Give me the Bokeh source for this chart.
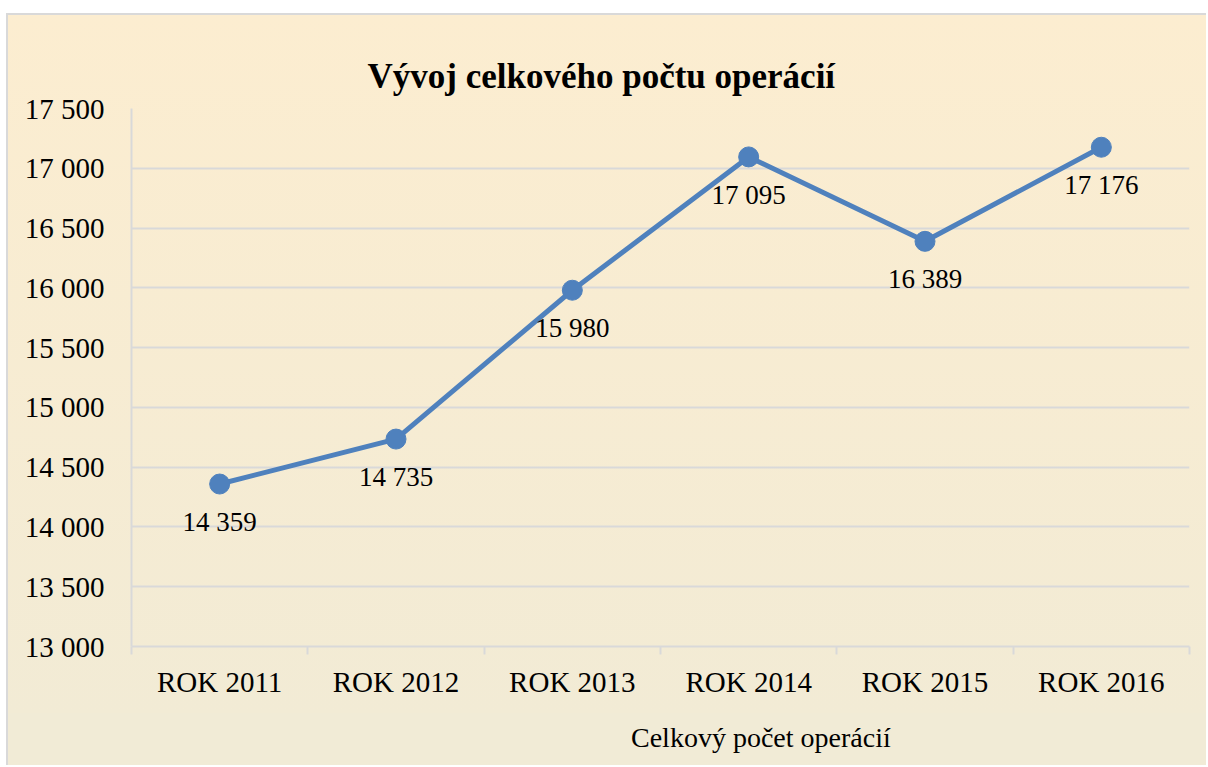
from bokeh.plotting import figure
from bokeh.layouts import column
from bokeh.models import Range1d, FixedTicker, ColumnDataSource, Legend, LegendItem
from bokeh.core.properties import value
from bokeh.embed import file_html
from bokeh.resources import INLINE

categories = ["ROK 2011", "ROK 2012", "ROK 2013", "ROK 2014", "ROK 2015", "ROK 2016"]
values = [14359, 14735, 15980, 17095, 16389, 17176]
y_ticks = [13000, 13500, 14000, 14500, 15000, 15500, 16000, 16500, 17000, 17500]
series_name = "Celkový počet operácií"
title_text = "Vývoj celkového počtu operácií"

def fmt(v):
    return f"{v:,}".replace(",", " ")

FONT = "Liberation Serif"
BLUE = "#4F81BD"
GRID = "#D9D9D9"

xs = [i + 0.5 for i in range(len(categories))]
src = ColumnDataSource(dict(x=xs, y=values, lab=[fmt(v) for v in values]))

p = figure(width=1200, height=700, output_backend="svg", toolbar_location=None,
           x_range=Range1d(0, len(categories)), y_range=Range1d(y_ticks[0], y_ticks[-1]),
           min_border_left=123, min_border_right=19, min_border_top=93, min_border_bottom=69,
           margin=(13, 0, 0, 6))
p.background_fill_color = None
p.border_fill_color = None
p.outline_line_color = None
p.styles = {"background": "linear-gradient(#FCEDD0, #F2EBD5)",
            "border-top": "2px solid #D9D9D9", "border-left": "2px solid #D9D9D9"}

p.title.text = title_text
p.title.text_font = FONT
p.title.text_font_size = "35px"
p.title.text_font_style = "bold"
p.title.align = "left"
p.title.offset = 236
p.title.standoff = 26
p.title.text_color = "black"

# axes
p.xaxis.ticker = FixedTicker(ticks=xs, minor_ticks=list(range(len(categories) + 1)))
p.xaxis.major_label_overrides = {x: c for x, c in zip(xs, categories)}
p.xaxis.major_tick_line_color = None
p.xaxis.minor_tick_line_color = GRID
p.xaxis.minor_tick_line_width = 2
p.xaxis.minor_tick_out = 8
p.xaxis.minor_tick_in = 0
p.xaxis.axis_line_color = GRID
p.xaxis.axis_line_width = 2
p.xaxis.major_label_text_font = FONT
p.xaxis.major_label_text_font_size = "29px"
p.xaxis.major_label_text_color = "black"
p.xaxis.major_label_standoff = 11

p.yaxis.ticker = FixedTicker(ticks=y_ticks)
p.yaxis.major_label_overrides = {t: fmt(t) for t in y_ticks}
p.yaxis.major_tick_line_color = None
p.yaxis.minor_tick_line_color = None
p.yaxis.axis_line_color = GRID
p.yaxis.axis_line_width = 2
p.yaxis.major_label_text_font = FONT
p.yaxis.major_label_text_font_size = "29px"
p.yaxis.major_label_text_color = "black"
p.yaxis.major_label_standoff = 21

p.xgrid.grid_line_color = None
p.ygrid.grid_line_color = GRID
p.ygrid.grid_line_width = 2

p.line("x", "y", source=src, line_color=BLUE, line_width=5)
p.scatter("x", "y", source=src, size=20, fill_color=BLUE, line_color=BLUE)
p.text("x", "y", text="lab", source=src, text_font=value(FONT), text_font_size="27px",
       text_align="center", text_baseline="middle", y_offset=38, text_color="black")

# legend strip below the chart
lf = figure(width=1200, height=52, output_backend="svg", toolbar_location=None,
            x_range=Range1d(0, 1), y_range=Range1d(0, 1),
            x_axis_location=None, y_axis_location=None, min_border=0,
            margin=(0, 0, 0, 6))
lf.background_fill_color = None
lf.border_fill_color = None
lf.outline_line_color = None
lf.xgrid.grid_line_color = None
lf.ygrid.grid_line_color = None
lf.styles = {"background": "#F1EBD6", "border-left": "2px solid #D9D9D9"}
empty = ColumnDataSource(dict(x=[], y=[]))
lln = lf.line("x", "y", source=empty, line_color=BLUE, line_width=5)
lsc = lf.scatter("x", "y", source=empty, size=20, fill_color=BLUE, line_color=BLUE)

legend = Legend(items=[LegendItem(label=series_name, renderers=[lln, lsc])],
                orientation="horizontal", location=(442, 11),
                background_fill_alpha=0, border_line_color=None,
                label_text_font=FONT, label_text_font_size="28px", label_text_color="black",
                glyph_width=55, glyph_height=22, label_standoff=3, margin=0, padding=2)
lf.add_layout(legend)

layout = column(p, lf, spacing=0)
open("out.html", "w").write(file_html(layout, INLINE))
